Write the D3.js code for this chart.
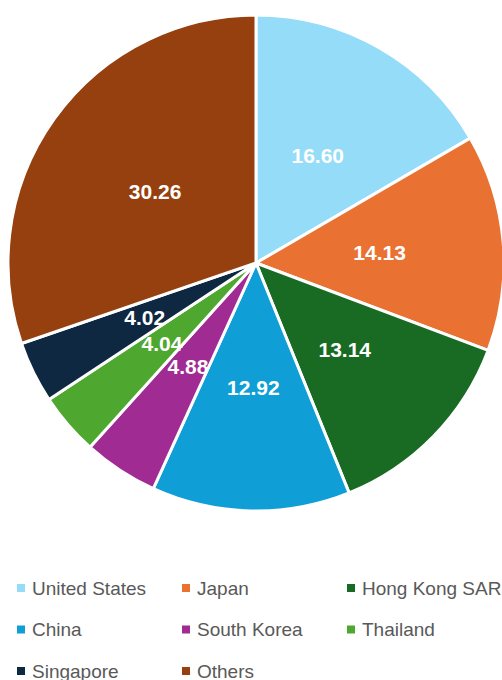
<!DOCTYPE html>
<meta charset="utf-8">
<script src="https://d3js.org/d3.v7.min.js"></script>
<style>
  body { margin: 0; background: #fff; }
</style>
<div id="my_dataviz"></div>
<script>
  // data
  var countries = ["United States", "Japan", "Hong Kong SAR", "China", "South Korea", "Thailand", "Singapore", "Others"];
  var shares = [16.60, 14.13, 13.14, 12.92, 4.88, 4.04, 4.02, 30.26];
  var colors = ["#94DCF8", "#E97132", "#196B24", "#0F9ED5", "#A02B93", "#4EA72E", "#0E2841", "#96400F"];

  var width = 502, height = 680;
  var cx = 256, cy = 263, radius = 248;

  var svg = d3.select("#my_dataviz")
    .append("svg")
      .attr("width", width)
      .attr("height", height);

  var data = countries.map(function(c, i) { return {name: c, value: shares[i]}; });

  var pie = d3.pie()
    .sort(null)
    .value(function(d) { return d.value; });

  var arc = d3.arc().innerRadius(0).outerRadius(radius);
  var labelArc = d3.arc().innerRadius(radius * 0.5).outerRadius(radius * 0.5);

  var color = d3.scaleOrdinal().domain(countries).range(colors);

  var g = svg.append("g")
    .attr("transform", "translate(" + cx + "," + cy + ")");

  var arcs = pie(data);

  g.selectAll("path")
    .data(arcs)
    .enter()
    .append("path")
      .attr("d", arc)
      .attr("fill", function(d) { return color(d.data.name); })
      .attr("stroke", "#fff")
      .attr("stroke-width", 3)
      .attr("stroke-linejoin", "round");

  g.selectAll("text.lbl")
    .data(arcs)
    .enter()
    .append("text")
      .attr("class", "lbl")
      .attr("transform", function(d) { return "translate(" + labelArc.centroid(d) + ")"; })
      .attr("text-anchor", "middle")
      .attr("dy", "0.36em")
      .style("font-family", "'Liberation Sans', Arial, sans-serif")
      .style("font-weight", "bold")
      .style("font-size", "21px")
      .style("fill", "#fff")
      .text(function(d) { return d.data.value.toFixed(2); });

  // legend, 3 columns
  var colX = d3.scalePoint().domain([0, 1, 2]).range([17, 347]);
  var rowY = d3.scalePoint().domain([0, 1, 2]).range([588, 671]);

  var legend = svg.selectAll("g.leg")
    .data(countries)
    .enter()
    .append("g")
      .attr("class", "leg")
      .attr("transform", function(d, i) {
        return "translate(" + colX(i % 3) + "," + rowY(Math.floor(i / 3)) + ")";
      });

  legend.append("rect")
    .attr("x", 0)
    .attr("y", -4)
    .attr("width", 8)
    .attr("height", 8)
    .attr("fill", function(d) { return color(d); });

  legend.append("text")
    .attr("x", 15)
    .attr("dy", "0.36em")
    .style("font-family", "'Liberation Sans', Arial, sans-serif")
    .style("font-size", "19px")
    .style("fill", "#595959")
    .text(function(d) { return d; });
</script>
